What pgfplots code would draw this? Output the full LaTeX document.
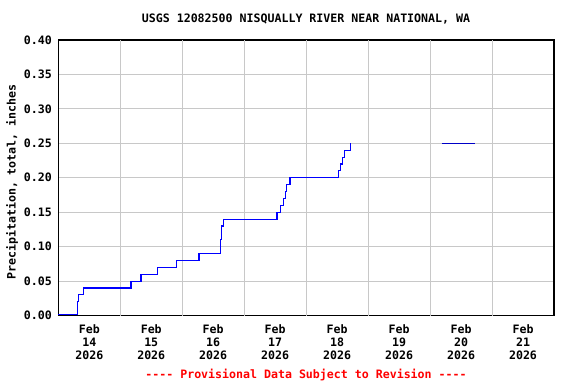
\documentclass[border=0pt]{standalone}
\usepackage{pgfplots}
\pgfplotsset{compat=1.18}
\usepackage{fontspec}
\newfontfamily\pix{DejaVu Sans Mono}
\newcommand\pixfont{\pix\bfseries\fontsize{11.6}{12.6}\selectfont}
\definecolor{gridc}{RGB}{200,200,200}
\definecolor{seriesA}{RGB}{0,0,255}
\definecolor{seriesB}{RGB}{0,0,200}
\begin{document}
\begin{tikzpicture}
\useasboundingbox (0,0) rectangle (576pt,384pt);
\begin{axis}[
  at={(58.3pt,68.5pt)}, anchor=south west,
  width=495.7pt, height=275.5pt, scale only axis,
  xmin=0, xmax=8, ymin=0, ymax=0.4,
  axis line style={line width=1.5pt, black},
  major tick length=0pt,
  xtick={0.5,1.5,2.5,3.5,4.5,5.5,6.5,7.5},
  xticklabels={{Feb\\14\\2026},{Feb\\15\\2026},{Feb\\16\\2026},{Feb\\17\\2026},{Feb\\18\\2026},{Feb\\19\\2026},{Feb\\20\\2026},{Feb\\21\\2026}},
  xticklabel style={font=\pixfont, align=center, anchor=north, yshift=-6pt},
  extra x ticks={1,2,3,4,5,6,7},
  extra x tick labels={},
  extra x tick style={grid=major, major tick length=0pt},
  ytick={0,0.05,0.10,0.15,0.20,0.25,0.30,0.35,0.40},
  ymajorgrids,
  grid style={gridc, line width=1pt},
  yticklabel style={font=\pixfont, anchor=east, xshift=-3pt,
    /pgf/number format/.cd, fixed, fixed zerofill, precision=2, assume math mode=true},
  clip=false,
]
\addplot[const plot, seriesA, line width=1.1pt] coordinates {
(0,0.0017) (0.306,0.02) (0.323,0.03) (0.403,0.04)
(1.173,0.05) (1.334,0.06) (1.597,0.07) (1.91,0.08) (2.27,0.09)
(2.62,0.11) (2.635,0.13) (2.66,0.14)
(3.53,0.15) (3.59,0.16) (3.63,0.17) (3.66,0.18) (3.69,0.19) (3.74,0.20)
(4.516,0.21) (4.56,0.22) (4.585,0.23) (4.62,0.24) (4.72,0.25)
};
\addplot[seriesB, line width=1.1pt] coordinates {(6.19,0.25) (6.72,0.25)};
\end{axis}
\node[font=\pixfont, anchor=center] at (306pt,365pt) {USGS 12082500 NISQUALLY RIVER NEAR NATIONAL, WA};
\node[font=\pixfont, rotate=90, anchor=center] at (12pt,202pt) {Precipitation, total, inches};
\node[font=\pixfont, text=red, anchor=center] at (306pt,9pt) {---- Provisional Data Subject to Revision ----};
\end{tikzpicture}
\end{document}
